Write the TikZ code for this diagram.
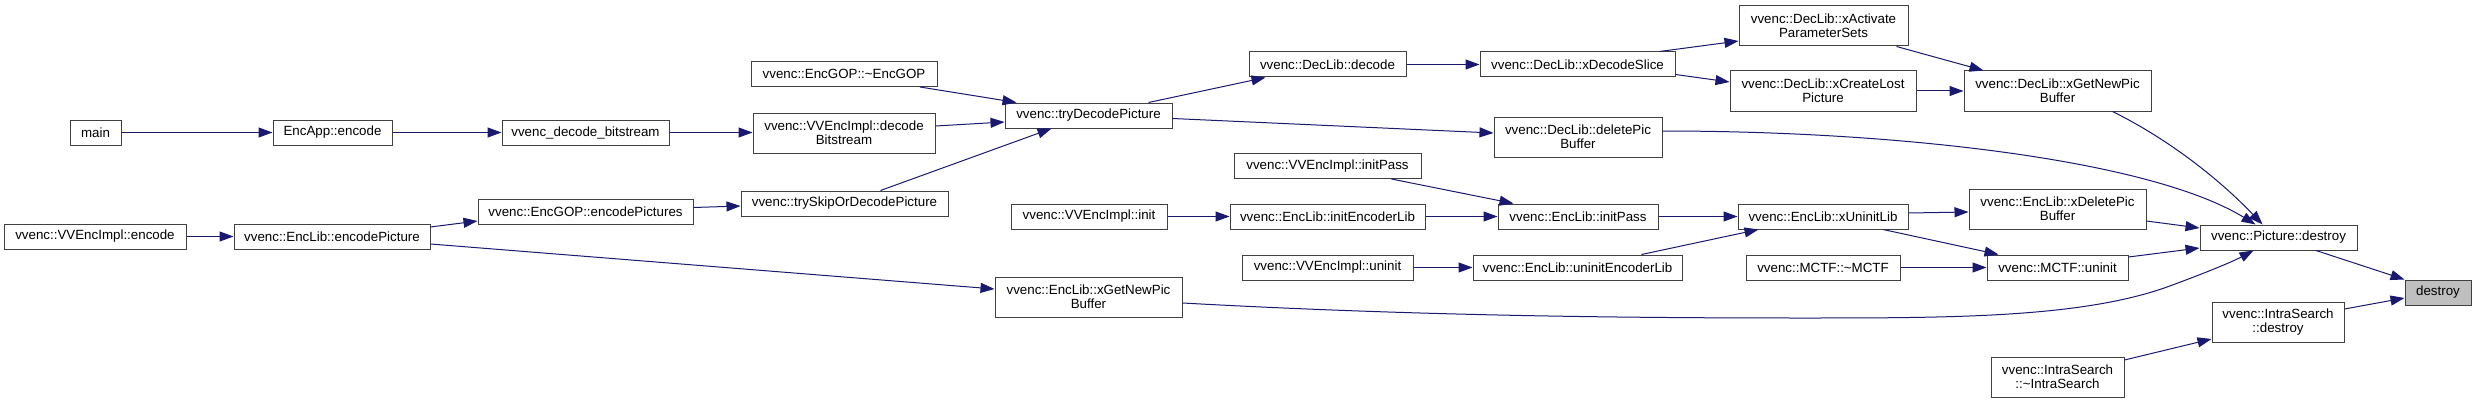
\documentclass[tikz,border=0pt]{standalone}
\usepackage{fontspec}
\setmainfont{Liberation Sans}
\usetikzlibrary{arrows.meta,calc}
\definecolor{edgeblue}{RGB}{25,25,112}
\definecolor{boxline}{RGB}{64,64,64}
\definecolor{hilite}{RGB}{191,191,191}
\begin{document}
\begin{tikzpicture}[x=0.75pt,y=-0.75pt,
  fn/.style 2 args={draw=boxline, fill=white, line width=0.75pt, inner sep=0pt,
    minimum width=#1*0.75pt, minimum height=#2*0.75pt, align=center,
    font=\fontsize{10}{10.5}\selectfont},
  calledge/.style={draw=edgeblue, line width=0.75pt, -{Triangle[length=10.5pt,width=7.5pt]}}]
\useasboundingbox[fill=white] (0,0) rectangle (2476,403);

% nodes
\node[fn={51}{25}]  (main)     at (95.5,132.5)  {main};
\node[fn={119}{25}] (encapp)   at (332.5,132.5) {EncApp::encode};
\node[fn={167}{25}] (vdb)      at (585.5,132.5) {vvenc\_decode\_bitstream};
\node[fn={182}{25}] (vvencode) at (95,236.5)    {vvenc::VVEncImpl::encode};
\node[fn={196}{25}] (encpic)   at (332,236.5)   {vvenc::EncLib::encodePicture};
\node[fn={215}{25}] (encpics)  at (585.5,211.5) {vvenc::EncGOP::encodePictures};
\node[fn={186}{25}] (dtorgop)  at (844,74)      {vvenc::EncGOP::\textasciitilde EncGOP};
\node[fn={182}{40}] (decbs)    at (844,133)     {vvenc::VVEncImpl::decode\\Bitstream};
\node[fn={167}{25}] (trydec)   at (1088.5,115.5){vvenc::tryDecodePicture};
\node[fn={207}{25}] (tryskip)  at (844.5,203.5) {vvenc::trySkipOrDecodePicture};
\node[fn={156}{25}] (vvinit)   at (1089,216.5)  {vvenc::VVEncImpl::init};
\node[fn={187}{40}] (egnpb)    at (1088.5,297)  {vvenc::EncLib::xGetNewPic\\Buffer};
\node[fn={157}{25}] (decode)   at (1327.5,64.5) {vvenc::DecLib::decode};
\node[fn={195}{25}] (xds)      at (1577.5,64.5) {vvenc::DecLib::xDecodeSlice};
\node[fn={169}{40}] (xaps)     at (1823.5,26)   {vvenc::DecLib::xActivate\\ParameterSets};
\node[fn={186}{40}] (xclp)     at (1823,91)     {vvenc::DecLib::xCreateLost\\Picture};
\node[fn={168}{40}] (dpb)      at (1578,137)    {vvenc::DecLib::deletePic\\Buffer};
\node[fn={187}{25}] (vvinitpass) at (1327.5,166){vvenc::VVEncImpl::initPass};
\node[fn={195}{25}] (initenc)  at (1327.5,216.5){vvenc::EncLib::initEncoderLib};
\node[fn={160}{25}] (initpass) at (1578,216.5)  {vvenc::EncLib::initPass};
\node[fn={170}{25}] (xunin)    at (1823,216.5)  {vvenc::EncLib::xUninitLib};
\node[fn={171}{25}] (vvuninit) at (1327.5,267.5){vvenc::VVEncImpl::uninit};
\node[fn={209}{25}] (uninitenc) at (1577.5,267.5){vvenc::EncLib::uninitEncoderLib};
\node[fn={154}{25}] (mctfd)    at (1823,267.5)  {vvenc::MCTF::\textasciitilde MCTF};
\node[fn={187}{40}] (dgnpb)    at (2057.5,91)   {vvenc::DecLib::xGetNewPic\\Buffer};
\node[fn={177}{40}] (xdpb)     at (2057.5,209)  {vvenc::EncLib::xDeletePic\\Buffer};
\node[fn={141}{25}] (mctfu)    at (2057.5,267.5){vvenc::MCTF::uninit};
\node[fn={157}{25}] (picd)     at (2278.5,237.5){vvenc::Picture::destroy};
\node[fn={66}{25}, fill=hilite] (destroy) at (2438,292.5) {destroy};
\node[fn={132}{40}] (isd)      at (2278,322)    {vvenc::IntraSearch\\::destroy};
\node[fn={133}{40}] (isdt)     at (2057.5,377)  {vvenc::IntraSearch\\::\textasciitilde IntraSearch};

% edges
\draw[calledge] (main.east) -- (encapp.west);
\draw[calledge] (encapp.east) -- (vdb.west);
\draw[calledge] (vdb.east) -- ($(decbs.west)+(0,-0.5)$);
\draw[calledge] ($(decbs.east)+(0,-7)$) -- ($(trydec.west)+(0,6.5)$);
\draw[calledge] ($(dtorgop.south)+(76,0)$) -- ($(trydec.north west)+(12,0)$);
\draw[calledge] ($(tryskip.north)+(36,0)$) -- ($(trydec.south)+(-37,0)$);
\draw[calledge] ($(encpics.east)+(0,-4)$) -- ($(tryskip.west)+(0,2.5)$);
\draw[calledge] (vvencode.east) -- (encpic.west);
\draw[calledge] ($(encpic.east)+(0,-9.5)$) -- ($(encpics.west)+(0,9.5)$);
\draw[calledge] ($(encpic.east)+(0,7.5)$) -- ($(egnpb.west)+(0,-8)$);
\draw[calledge] ($(trydec.north)+(60,0)$) -- ($(decode.south)+(-62,0)$);
\draw[calledge] ($(trydec.east)+(0,3)$) -- ($(dpb.west)+(0,-4)$);
\draw[calledge] (decode.east) -- (xds.west);
\draw[calledge] ($(xds.north east)+(-16,0)$) -- ($(xaps.west)+(0,15)$);
\draw[calledge] ($(xds.east)+(0,10)$) -- ($(xclp.west)+(0,-9)$);
\draw[calledge] ($(xaps.south east)+(-12,0)$) -- ($(dgnpb.north west)+(20,0)$);
\draw[calledge] (xclp.east) -- (dgnpb.west);
\draw[calledge] ($(dgnpb.south)+(55,0)$) .. controls (2170,140) and (2220,180) .. ($(picd.north)+(-16,0)$);
\draw[calledge] ($(dpb.east)+(0,-6)$) .. controls (1900,131) and (2150,160) .. ($(picd.north)+(-23,0)$);
\draw[calledge] (vvinit.east) -- (initenc.west);
\draw[calledge] (initenc.east) -- (initpass.west);
\draw[calledge] ($(vvinitpass.south)+(64,0)$) -- ($(initpass.north west)+(16,0)$);
\draw[calledge] (initpass.east) -- (xunin.west);
\draw[calledge] ($(uninitenc.north east)+(-41,0)$) -- ($(xunin.south west)+(21,0)$);
\draw[calledge] (vvuninit.east) -- (uninitenc.west);
\draw[calledge] ($(xunin.east)+(0,-3.5)$) -- ($(xdpb.west)+(0,3)$);
\draw[calledge] ($(xunin.south)+(60,0)$) -- ($(mctfu.north west)+(12,0)$);
\draw[calledge] (mctfd.east) -- (mctfu.west);
\draw[calledge] ($(xdpb.east)+(0,12)$) -- ($(picd.west)+(0,-9.5)$);
\draw[calledge] ($(mctfu.east)+(0,-10.5)$) -- ($(picd.west)+(0,10.5)$);
\draw[calledge] ($(egnpb.east)+(0,6)$) .. controls (1400,315) and (1600,318) .. (1800,318)
   .. controls (1950,318) and (2080,318) .. (2167,287)
   .. controls (2200,275) and (2232,262) .. ($(picd.south)+(-25,0)$);
\draw[calledge] ($(picd.south)+(37.5,0)$) -- (destroy.north west);
\draw[calledge] ($(isd.east)+(0,-13)$) -- ($(destroy.west)+(0,5.5)$);
\draw[calledge] ($(isdt.east)+(0,-17)$) -- ($(isd.west)+(0,17)$);
\end{tikzpicture}
\end{document}
